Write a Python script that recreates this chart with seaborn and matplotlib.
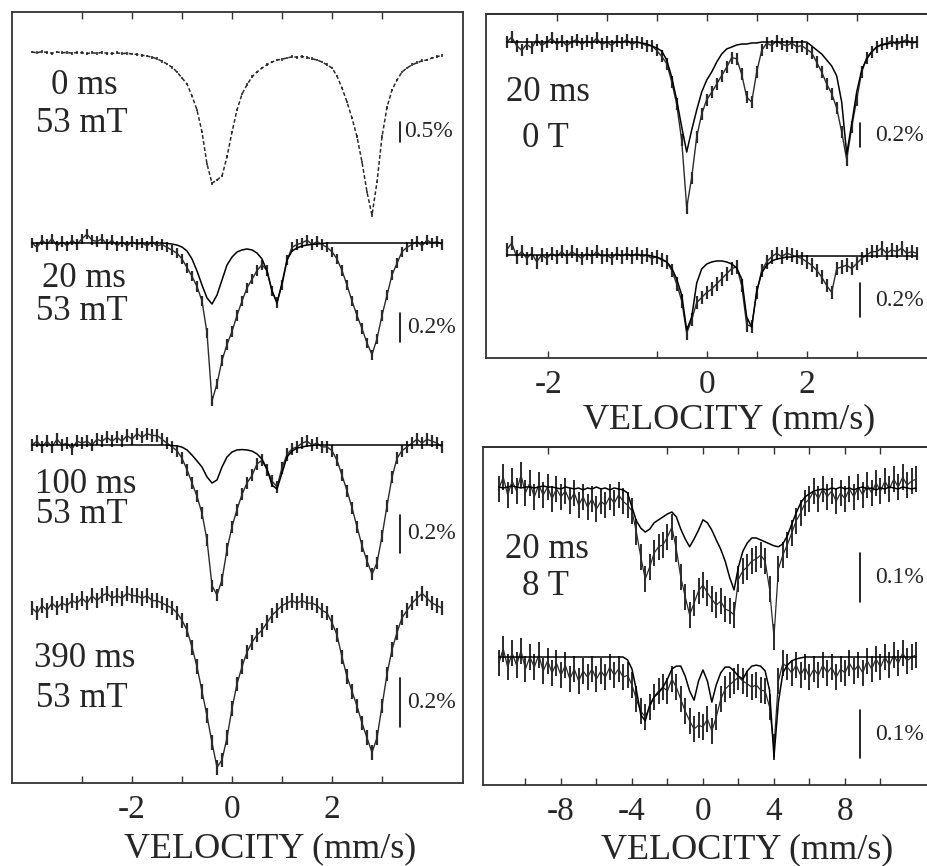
import numpy as np
import matplotlib
matplotlib.use("Agg")
import matplotlib.pyplot as plt
import seaborn as sns

# velocity channels (mm/s)
v_narrow = np.round(np.arange(-4.0, 4.21, 0.1), 2)     # 83 channels, +-4 mm/s runs
v_wide = np.round(np.arange(-11.5, 12.01, 0.25), 2)    # 95 channels, 8 T run

# ---- left panel: 53 mT spectra, absorption in % (positive = dip) ----
abs_0ms = [0.00, 0.02, -0.01, 0.01, 0.03, 0.00, 0.02, 0.01, 0.03, 0.01,
           0.02, 0.04, 0.02, 0.03, 0.01, 0.03, 0.04, 0.02, 0.04, 0.03,
           0.05, 0.06, 0.08, 0.10, 0.13, 0.17, 0.23, 0.30, 0.38, 0.50,
           0.65, 0.80, 1.10, 1.45, 2.00, 2.80, 3.28, 3.20, 3.10, 2.62,
           2.00, 1.45, 1.05, 0.82, 0.62, 0.50, 0.40, 0.32, 0.25, 0.20,
           0.18, 0.15, 0.12, 0.13, 0.11, 0.14, 0.17, 0.20, 0.25, 0.32,
           0.40, 0.60, 0.90, 1.25, 1.65, 2.12, 2.75, 3.50, 4.08, 3.25,
           2.12, 1.38, 0.95, 0.70, 0.50, 0.40, 0.32, 0.27, 0.22, 0.20,
           0.15, 0.12, 0.08]

abs_20ms = [0.00, 0.03, -0.02, 0.01, -0.03, 0.02, -0.01, 0.02, -0.02, 0.01,
            -0.03, -0.06, -0.02, -0.01, -0.03, 0.01, -0.02, 0.02, -0.01, 0.02,
            -0.01, 0.01, 0.00, 0.02, -0.01, 0.02, 0.01, 0.03, 0.05, 0.07,
            0.11, 0.17, 0.23, 0.30, 0.40, 0.62, 1.09, 0.97, 0.81, 0.70,
            0.61, 0.50, 0.40, 0.31, 0.25, 0.19, 0.15, 0.19, 0.33, 0.41,
            0.29, 0.12, 0.03, 0.01, 0.00, -0.02, 0.01, -0.01, 0.01, 0.03,
            0.06, 0.11, 0.19, 0.29, 0.40, 0.50, 0.59, 0.69, 0.77, 0.66,
            0.50, 0.36, 0.22, 0.14, 0.06, 0.03, 0.01, -0.01, 0.02, -0.02,
            0.00, -0.01, 0.01]
fit_20ms = [0.0] * 27 + [0.003, 0.007, 0.014,
            0.028, 0.055, 0.110, 0.193, 0.290, 0.379, 0.421, 0.359, 0.255, 0.152,
            0.097, 0.062, 0.048, 0.041, 0.048, 0.069, 0.110, 0.193, 0.331, 0.414,
            0.276, 0.117, 0.055, 0.034, 0.021, 0.014, 0.010, 0.007, 0.003, 0.0] + [0.0] * 23

abs_100ms = [0.00, -0.02, 0.01, -0.02, 0.01, -0.03, 0.00, -0.01, 0.02, -0.02,
             -0.01, -0.02, 0.00, -0.03, -0.02, -0.04, -0.02, -0.04, -0.02, -0.05,
             -0.03, -0.06, -0.04, -0.06, -0.05, -0.05, -0.03, -0.01, 0.01, 0.03,
             0.07, 0.13, 0.20, 0.27, 0.36, 0.50, 0.74, 0.79, 0.71, 0.55,
             0.43, 0.34, 0.26, 0.20, 0.16, 0.10, 0.08, 0.13, 0.19, 0.22,
             0.12, 0.05, 0.02, 0.01, -0.01, -0.02, 0.00, -0.01, 0.01, 0.01,
             0.03, 0.08, 0.16, 0.24, 0.33, 0.43, 0.53, 0.61, 0.68, 0.62,
             0.48, 0.32, 0.17, 0.07, 0.03, 0.01, -0.01, -0.03, -0.01, -0.03,
             -0.02, -0.01, 0.01]
fit_100ms = [0.0] * 28 + [0.003, 0.005,
             0.011, 0.026, 0.053, 0.084, 0.116, 0.168, 0.200, 0.184, 0.116, 0.063,
             0.037, 0.026, 0.024, 0.026, 0.032, 0.047, 0.074, 0.126, 0.211, 0.232,
             0.147, 0.063, 0.032, 0.016, 0.011, 0.005, 0.003, 0.0, 0.0, 0.0] + [0.0] * 23

abs_390ms = [0.00, 0.02, -0.01, 0.01, -0.02, 0.00, -0.02, -0.01, -0.03, -0.02,
             -0.04, -0.02, -0.05, -0.03, -0.05, -0.06, -0.04, -0.05, -0.04, -0.06,
             -0.05, -0.05, -0.04, -0.05, -0.03, -0.03, -0.02, -0.01, 0.00, 0.02,
             0.05, 0.09, 0.16, 0.24, 0.34, 0.44, 0.55, 0.65, 0.62, 0.53,
             0.41, 0.31, 0.24, 0.18, 0.14, 0.11, 0.09, 0.06, 0.03, 0.01,
             -0.01, -0.02, -0.03, -0.02, -0.03, -0.02, -0.02, -0.01, 0.01, 0.02,
             0.06, 0.11, 0.20, 0.28, 0.34, 0.40, 0.47, 0.53, 0.59, 0.53,
             0.40, 0.27, 0.17, 0.10, 0.04, 0.01, -0.02, -0.04, -0.06, -0.04,
             -0.02, -0.01, 0.00]

# ---- top right: 20 ms, 0 T ----
abs_0T_a = [0.00, -0.04, 0.03, 0.07, 0.02, 0.05, -0.02, 0.03, 0.00, -0.03,
            0.02, -0.01, 0.03, 0.00, -0.02, 0.02, -0.01, 0.01, -0.03, 0.02,
            0.00, 0.03, -0.01, 0.01, -0.02, 0.02, 0.00, 0.01, 0.03, 0.03,
            0.07, 0.12, 0.18, 0.33, 0.52, 0.82, 1.38, 1.13, 0.79, 0.60,
            0.48, 0.42, 0.35, 0.28, 0.21, 0.13, 0.14, 0.27, 0.46, 0.50,
            0.25, 0.07, 0.01, 0.03, -0.01, 0.02, 0.03, 0.01, 0.04, 0.03,
            0.06, 0.09, 0.17, 0.25, 0.35, 0.43, 0.55, 0.75, 0.98, 0.71,
            0.48, 0.25, 0.13, 0.08, 0.04, 0.02, 0.01, -0.01, 0.02, 0.00,
            -0.02, 0.01, 0.00]
fit_0T_a = [0.0] * 27 + [0.008, 0.017, 0.033,
            0.050, 0.075, 0.150, 0.292, 0.483, 0.708, 0.917, 0.733, 0.567, 0.417,
            0.317, 0.250, 0.167, 0.100, 0.058, 0.042, 0.025, 0.017, 0.017, 0.008,
            0.008, 0.0, 0.0, 0.0, 0.0, 0.0, 0.0, 0.0, 0.0, 0.0,
            0.0, 0.033, 0.067, 0.100, 0.150, 0.200, 0.283, 0.500, 0.933, 0.683,
            0.417, 0.233, 0.142, 0.083, 0.042, 0.025, 0.017, 0.008, 0.0, 0.0,
            0.0, 0.0, 0.0]

abs_0T_b = [-0.03, -0.07, 0.01, -0.02, 0.02, -0.01, 0.04, 0.00, 0.02, -0.01,
            0.01, -0.02, 0.01, -0.02, 0.00, 0.02, -0.01, 0.01, -0.02, 0.01,
            0.00, 0.02, -0.01, 0.01, -0.01, 0.01, -0.01, 0.01, 0.00, 0.02,
            0.01, 0.03, 0.04, 0.09, 0.17, 0.27, 0.46, 0.38, 0.28, 0.25,
            0.22, 0.20, 0.17, 0.14, 0.11, 0.08, 0.07, 0.18, 0.41, 0.42,
            0.22, 0.09, 0.04, 0.01, -0.01, 0.01, -0.01, 0.00, 0.01, 0.02,
            0.04, 0.06, 0.09, 0.13, 0.18, 0.22, 0.08, 0.07, 0.06, 0.08,
            0.05, 0.02, 0.00, -0.02, -0.02, -0.04, -0.01, -0.03, -0.02, -0.04,
            -0.01, -0.02, -0.01]
fit_0T_b = [0.0] * 29 + [0.006,
            0.012, 0.024, 0.041, 0.076, 0.141, 0.235, 0.441, 0.365, 0.165, 0.082,
            0.053, 0.041, 0.035, 0.035, 0.041, 0.053, 0.076, 0.141, 0.365, 0.424,
            0.212, 0.106, 0.059, 0.035, 0.024, 0.018, 0.012, 0.012, 0.006, 0.006] + [0.006] * 23

# ---- bottom right: 20 ms, 8 T ----
abs_8T_a = [0.004, -0.020, 0.016, -0.012, 0.008, -0.024, 0.012, -0.008, 0.020, -0.004,
            0.016, 0.000, 0.024, 0.004, 0.020, 0.008, 0.029, 0.012, 0.037, 0.020,
            0.041, 0.024, 0.045, 0.029, 0.037, 0.020, 0.033, 0.016, 0.029, 0.037,
            0.049, 0.092, 0.143, 0.188, 0.163, 0.135, 0.122, 0.118, 0.102, 0.082,
            0.127, 0.184, 0.224, 0.261, 0.237, 0.212,
            0.200, 0.216, 0.229, 0.241, 0.233, 0.249, 0.253, 0.261, 0.188, 0.171,
            0.163, 0.151, 0.147, 0.139, 0.151, 0.208, 0.306, 0.167, 0.139, 0.118,
            0.094, 0.069, 0.053, 0.033, 0.024, 0.008, 0.024, 0.004, 0.020, 0.008,
            0.029, 0.012, 0.024, 0.004, 0.020, 0.000, 0.016, -0.004, 0.012, -0.008,
            0.008, -0.012, 0.004, -0.016, 0.000, -0.020, -0.004, -0.012, -0.016]
fit_8T_a = [0.0, 0.002, 0.0, -0.002, 0.0, 0.002, 0.0, 0.0, 0.002, 0.0,
            -0.002, 0.0, 0.0, 0.002, 0.004, 0.0, 0.002, 0.004, 0.002, 0.006,
            0.002, 0.004, 0.0, 0.004, 0.002, 0.006, 0.002, 0.004, 0.006,
            0.012, 0.041, 0.069, 0.084, 0.092, 0.086, 0.073, 0.067, 0.061, 0.055,
            0.051, 0.061, 0.086, 0.106, 0.122, 0.106, 0.088,
            0.067, 0.073, 0.088, 0.108, 0.127, 0.151, 0.184, 0.210, 0.163, 0.131,
            0.114, 0.104, 0.104, 0.108, 0.112, 0.116, 0.120, 0.122, 0.116, 0.100,
            0.076, 0.053, 0.033, 0.020, 0.014, 0.008, 0.006,
            0.004, 0.006, 0.002, 0.004, 0.000, 0.004, 0.002, 0.006, 0.002, 0.000,
            0.004, 0.002, 0.006, 0.002, 0.004, 0.000, 0.002, 0.004, 0.000, 0.002,
            0.004, 0.002]

abs_8T_b = [0.013, -0.017, 0.021, -0.008, 0.017, -0.013, 0.025, 0.000, 0.021, -0.004,
            0.029, 0.008, 0.033, 0.013, 0.038, 0.017, 0.046, 0.025, 0.050, 0.029,
            0.042, 0.025, 0.046, 0.029, 0.042, 0.021, 0.038, 0.025, 0.042, 0.038,
            0.058, 0.088, 0.113, 0.125, 0.104, 0.083, 0.071, 0.063, 0.071, 0.046,
            0.063, 0.088, 0.113, 0.133, 0.150, 0.142,
            0.146, 0.129, 0.154, 0.125, 0.088, 0.067, 0.058, 0.050, 0.042, 0.050,
            0.056, 0.063, 0.058, 0.069, 0.071, 0.104, 0.188, 0.050, 0.013, 0.021,
            0.033, 0.017, 0.038, 0.021, 0.042, 0.025, 0.038, 0.017, 0.033, 0.021,
            0.042, 0.025, 0.033, 0.013, 0.029, 0.017, 0.033, 0.008, 0.025, 0.004,
            0.021, 0.000, 0.017, -0.004, 0.013, -0.008, 0.008, 0.000, -0.004]
fit_8T_b = [0.0] * 29 + [0.006, 0.025, 0.069, 0.121, 0.133, 0.100, 0.083, 0.075, 0.063,
            0.046, 0.025, 0.019, 0.019, 0.040, 0.071, 0.090, 0.050,
            0.027, 0.050, 0.094, 0.058, 0.033, 0.021, 0.021, 0.029, 0.040, 0.046,
            0.029, 0.019, 0.017, 0.019, 0.029, 0.069, 0.208, 0.094, 0.033, 0.017,
            0.008, 0.004, 0.002, 0.0, 0.0, 0.0, 0.0] + [0.0] * 22

# ---------------------------------------------------------------------------
sns.set_theme(style="ticks")
plt.rcParams["font.family"] = ["Liberation Serif", "DejaVu Serif"]

W, H = 927, 866
fig = plt.figure(figsize=(W / 100, H / 100), dpi=100)
DATA = "#2b2b2b"


def box(x0, y0, x1, y1):
    return [x0 / W, 1 - y1 / H, (x1 - x0) / W, (y1 - y0) / H]


def spectrum(ax, v, vals, fit, base, scale, err, lw=1.6, join_lw=1.0, join_ls="-"):
    # y axis counts rows downward, so a dip goes to larger y
    y = base + scale * np.asarray(vals)
    ax.errorbar(v, y, yerr=scale * err, fmt="none", ecolor=DATA,
                elinewidth=lw, capsize=0)
    sns.lineplot(x=v, y=y, ax=ax, color=DATA, lw=join_lw, ls=join_ls,
                 estimator=None, sort=False, legend=False)
    if fit is not None:
        sns.lineplot(x=v, y=base + scale * np.asarray(fit), ax=ax, color="black",
                     lw=1.1, estimator=None, sort=False, legend=False)


def scalebar(ax, x, top, length, text, dx):
    ax.plot([x, x], [top, top + length], color="black", lw=1.2)
    ax.text(x + dx, top + length / 2, text, fontsize=17, va="center", ha="left")


def label(x, y, s):
    fig.text(x / W, 1 - y / H, s, fontsize=25, ha="center", va="baseline")


ax_l = fig.add_axes(box(12, 12, 463, 783))
ax_tr = fig.add_axes(box(486, 14, 927, 358))
ax_br = fig.add_axes(box(483, 447, 927, 785))

# left panel
spectrum(ax_l, v_narrow, abs_0ms, None, 52, 40, 0.035, lw=1.2, join_lw=1.1,
         join_ls=(0, (2.5, 1.5)))
spectrum(ax_l, v_narrow, abs_20ms, fit_20ms, 243, 145, 0.035)
spectrum(ax_l, v_narrow, abs_100ms, fit_100ms, 445, 190, 0.032)
spectrum(ax_l, v_narrow, abs_390ms, None, 608, 245, 0.03)
scalebar(ax_l, 3.36, 122, 0.5 * 40, "0.5%", 0.08)
scalebar(ax_l, 3.36, 313, 0.2 * 145, "0.2%", 0.14)
scalebar(ax_l, 3.36, 515, 0.2 * 190, "0.2%", 0.14)
scalebar(ax_l, 3.36, 678, 0.2 * 245, "0.2%", 0.14)
ax_l.set_xlim(-4.4, 4.62)
ax_l.set_ylim(783, 12)

# top right panel
spectrum(ax_tr, v_narrow, abs_0T_a, fit_0T_a, 42, 120, 0.05)
spectrum(ax_tr, v_narrow, abs_0T_b, fit_0T_b, 255, 170, 0.04)
scalebar(ax_tr, 3.07, 123, 0.2 * 120, "0.2%", 0.30)
scalebar(ax_tr, 3.07, 283, 0.2 * 170, "0.2%", 0.30)
ax_tr.set_xlim(-4.414, 4.406)
ax_tr.set_ylim(358, 14)

# bottom right panel
spectrum(ax_br, v_wide, abs_8T_a, fit_8T_a, 487, 490, 0.027, lw=1.4, join_lw=0.9)
spectrum(ax_br, v_wide, abs_8T_b, fit_8T_b, 657, 480, 0.027, lw=1.4, join_lw=0.9)
scalebar(ax_br, 8.85, 553, 0.1 * 490, "0.1%", 0.85)
scalebar(ax_br, 8.85, 710, 0.1 * 480, "0.1%", 0.85)
ax_br.set_xlim(-12.39, 12.62)
ax_br.set_ylim(785, 447)

# axes styling
for ax in (ax_l, ax_tr, ax_br):
    ax.set_yticks([])
    for s in ax.spines.values():
        s.set_color("#333333")
        s.set_linewidth(1.3)
    ax.tick_params(axis="x", which="both", direction="in", length=5, width=1,
                   color="#333333", labelsize=24, pad=8)
for ax in (ax_tr, ax_br):
    ax.spines["right"].set_visible(False)

ax_l.set_xticks([-3, -2, -1, 0, 1, 2, 3], ["", "-2", "", "0", "", "2", ""])
ax_l.tick_params(axis="x", top=True)

ax_tr.set_xticks([-3.17, -1, 0, 1, 2, 3], ["-2", "", "0", "", "2", ""])
top_tr = ax_tr.secondary_xaxis("top")
top_tr.set_xticks([-3, -2, -1, 0, 1, 2, 3], [""] * 7)
top_tr.tick_params(direction="in", length=5, width=1, color="#333333")
top_tr.spines["top"].set_linewidth(1.3)
top_tr.spines["top"].set_color("#333333")

ax_br.set_xticks([-10, -8, -6, -4, -2, 0, 2, 4, 6, 8, 10],
                 ["", "-8", "", "-4", "", "0", "", "4", "", "8", ""])
top_br = ax_br.secondary_xaxis("top")
top_br.set_xticks([-8.73, -2, 0, 2, 4, 6, 8, 10], [""] * 8)
top_br.tick_params(direction="in", length=5, width=1, color="#333333")
top_br.spines["top"].set_linewidth(1.3)
top_br.spines["top"].set_color("#333333")

# spectrum captions
label(84, 94, "0 ms")
label(82, 132, "53 mT")
label(84, 287, "20 ms")
label(82, 320, "53 mT")
label(86, 493, "100 ms")
label(82, 523, "53 mT")
label(85, 667, "390 ms")
label(82, 707, "53 mT")
label(548, 101, "20 ms")
label(545, 147, "0 T")
label(547, 558, "20 ms")
label(545, 595, "8 T")

for x, y in [(270, 857), (729, 428), (747, 858)]:
    fig.text(x / W, 1 - y / H, "VELOCITY (mm/s)", fontsize=26, ha="center",
             va="baseline")

fig.savefig("out.png", dpi=100)
